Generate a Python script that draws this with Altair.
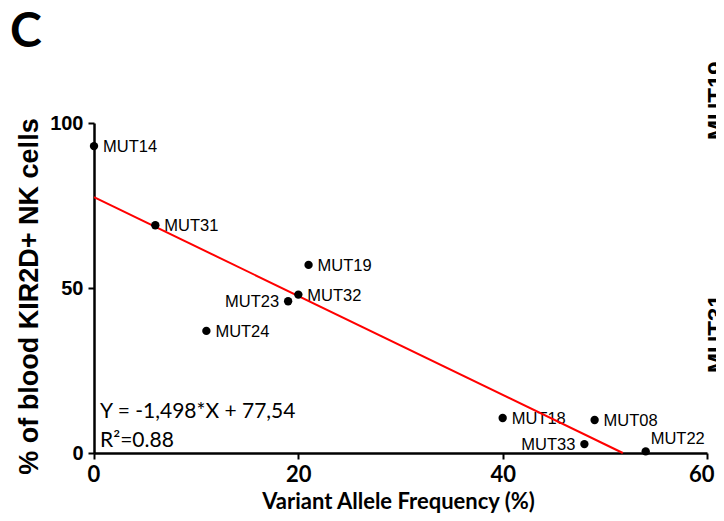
import altair as alt
import pandas as pd

# ---- data ----
names = ["MUT14", "MUT31", "MUT19", "MUT32", "MUT23", "MUT24", "MUT18", "MUT08", "MUT33", "MUT22"]
vaf = [0, 6, 21, 20, 19, 11, 40, 49, 48, 54]
kir = [93, 69, 57, 48, 46, 37, 10.6, 10, 2.7, 0.5]

left_labels = ["MUT23", "MUT33"]
above_labels = ["MUT22"]

slope = -1.498
intercept = 77.54
fit_x = [0, -intercept / slope]
fit_y = [intercept + slope * v for v in fit_x]

x_ticks = [0, 20, 40, 60]
y_ticks = [0, 50, 100]

eq_line1 = "Y = -1,498*X + 77,54"
eq_line2 = "R\u00b2=0.88"
x_title = "Variant Allele Frequency (%)"
y_title = "% of blood KIR2D+ NK cells"
panel_letter = "C"
edge_labels = ["MUT19", "MUT31"]

pts = pd.DataFrame({"name": names, "vaf": vaf, "kir": kir})
fit = pd.DataFrame({"vaf": fit_x, "kir": fit_y})
one = pd.DataFrame({"a": [0]})

W, H = 613, 330

xs = alt.Scale(domain=[0, 60], nice=False)
ys = alt.Scale(domain=[0, 100], nice=False)

x_axis = alt.Axis(values=x_ticks, grid=False, title=None, domainColor="black", domainWidth=2.5,
                  tickColor="black", tickWidth=2, tickSize=6, labelFont="Lato", labelFontSize=22,
                  labelFontWeight="bold", labelColor="black", labelPadding=5,
                  labelFlush=True, labelFlushOffset=7)
y_axis = alt.Axis(values=y_ticks, grid=False, title=None, domainColor="black", domainWidth=2.5,
                  tickColor="black", tickWidth=2, tickSize=6, labelFont="Liberation Sans", labelFontSize=20,
                  labelFontWeight="bold", labelColor="black", labelPadding=5, labelFlush=False)

base = alt.Chart(pts).encode(
    x=alt.X("vaf:Q", scale=xs, axis=x_axis),
    y=alt.Y("kir:Q", scale=ys, axis=y_axis),
)

label_style = dict(font="Liberation Sans", fontSize=16.5, color="black", baseline="middle")

lab_right = base.transform_filter(
    ~alt.FieldOneOfPredicate(field="name", oneOf=left_labels + above_labels)
).mark_text(align="left", dx=9, dy=1, **label_style).encode(text="name:N")

lab_left = base.transform_filter(
    alt.FieldOneOfPredicate(field="name", oneOf=left_labels)
).mark_text(align="right", dx=-9, dy=1, **label_style).encode(text="name:N")

lab_above = base.transform_filter(
    alt.FieldOneOfPredicate(field="name", oneOf=above_labels)
).mark_text(align="left", dx=5, dy=-12, **label_style).encode(text="name:N")

line = alt.Chart(fit).mark_line(color="#ff0000", strokeWidth=2).encode(
    x=alt.X("vaf:Q", scale=xs), y=alt.Y("kir:Q", scale=ys)
)

points = base.mark_circle(size=70, color="black", opacity=1)

def txt(s, x, y, **kw):
    return alt.Chart(one).mark_text(**kw).encode(
        x=alt.value(x), y=alt.value(y), text=alt.value(s)
    )

eq1 = txt(eq_line1, 6, 295, align="left", baseline="alphabetic", font="Lato", fontSize=21, color="black")
eq2 = txt(eq_line2, 6, 324, align="left", baseline="alphabetic", font="Lato", fontSize=21, color="black")
xt = txt(x_title, 304.5, 385.5, align="center", baseline="alphabetic", font="Lato", fontSize=22,
         fontWeight="bold", color="black")
yt = txt(y_title, -56, 173.5, align="center", baseline="alphabetic", angle=270,
         font="Liberation Sans", fontSize=27, fontWeight="bold", color="black")
pl = txt(panel_letter, -84, -76, align="left", baseline="alphabetic", font="Lato", fontSize=48,
         fontWeight="bold", color="black")
e1 = txt(edge_labels[0], 631, 17, align="left", baseline="alphabetic", angle=270,
         font="Liberation Sans", fontSize=24, fontWeight="bold", color="black")
e2 = txt(edge_labels[1], 631, 250, align="left", baseline="alphabetic", angle=270,
         font="Liberation Sans", fontSize=24, fontWeight="bold", color="black")

chart = alt.layer(
    lab_right, lab_left, lab_above, line, points, eq1, eq2, xt, yt, pl, e1, e2
).properties(
    width=W, height=H,
    autosize=alt.AutoSizeParams(type="none"),
    padding={"left": 86, "top": 115, "right": 9, "bottom": 60},
    background="white",
).configure_view(stroke=None)

chart.save("out.html", embed_options={"renderer": "svg", "actions": False})
